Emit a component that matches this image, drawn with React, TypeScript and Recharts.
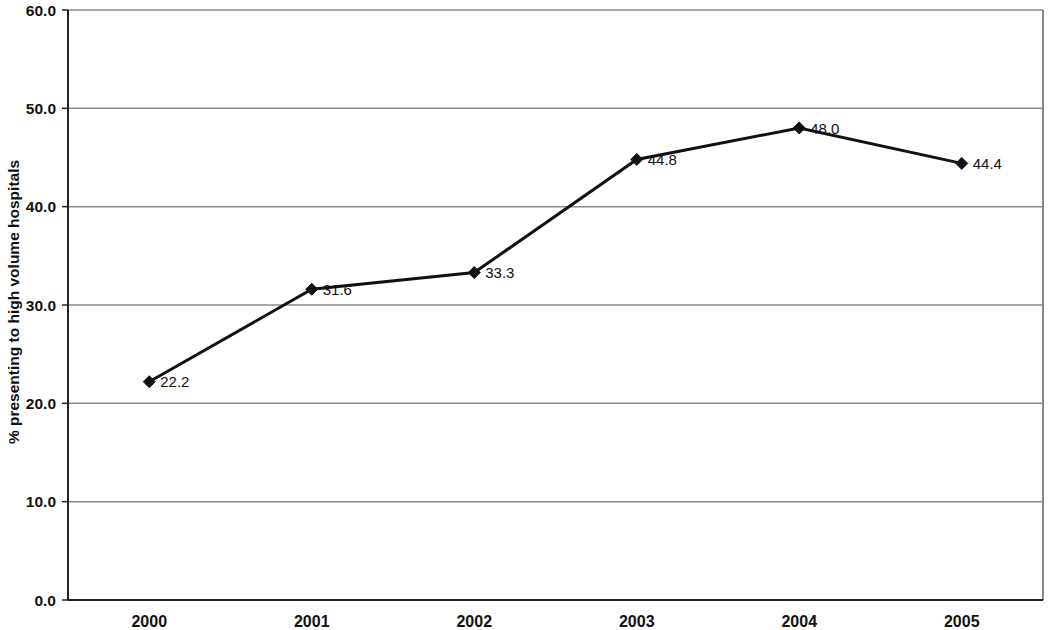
import React from "react";
import {
  LineChart,
  Line,
  XAxis,
  YAxis,
  CartesianGrid,
  ReferenceLine,
  LabelList,
} from "recharts";

const years = ["2000", "2001", "2002", "2003", "2004", "2005"];
const pct = [22.2, 31.6, 33.3, 44.8, 48.0, 44.4];
const yTicks = [0, 10, 20, 30, 40, 50, 60];

const data = years.map((year, i) => ({ idx: i, year, value: pct[i] }));

const font = "Arial, 'Liberation Sans', Helvetica, sans-serif";

// diamond marker, like the old Excel line charts
const Diamond = (props: any) => {
  const { cx, cy } = props;
  if (cx == null || cy == null) return null;
  const r = 6;
  return (
    <polygon
      points={`${cx},${cy - r} ${cx + r},${cy} ${cx},${cy + r} ${cx - r},${cy}`}
      fill="#111"
      stroke="#111"
    />
  );
};

const ValueLabel = (props: any) => {
  const { x, y, value } = props;
  return (
    <text x={x + 11} y={y + 5.5} fontSize={15} fontFamily={font} fill="#111" textAnchor="start">
      {Number(value).toFixed(1)}
    </text>
  );
};

const AxisTitle = (props: any) => {
  const { viewBox } = props;
  const cy = viewBox.y + viewBox.height / 2 - 3;
  return (
    <text
      x={13}
      y={cy}
      transform={`rotate(-90, 13, ${cy})`}
      textAnchor="middle"
      dominantBaseline="central"
      fontSize={15.5}
      fontWeight="bold"
      fontFamily={font}
      fill="#111"
    >
      % presenting to high volume hospitals
    </text>
  );
};

export default function App() {
  return (
    <div style={{ position: "absolute", left: 0, top: 0, background: "#fff" }}>
      <LineChart
        width={1050}
        height={630}
        data={data}
        margin={{ top: 10, right: 7, left: 0, bottom: 0 }}
      >
        <CartesianGrid horizontal vertical={false} stroke="#8a8a8a" strokeWidth={1.5} />
        <XAxis
          dataKey="idx"
          type="number"
          domain={[-0.5, 5.5]}
          ticks={years.map((_, i) => i)}
          tickFormatter={(v: number) => years[v]}
          tickLine={false}
          axisLine={{ stroke: "#222", strokeWidth: 2 }}
          tick={{ fill: "#111", fontSize: 16, fontWeight: "bold", fontFamily: font }}
          tickMargin={10}
          height={30}
          allowDataOverflow
        />
        {/* tick marks between the categories */}
        <XAxis
          xAxisId="sep"
          dataKey="idx"
          type="number"
          domain={[-0.5, 5.5]}
          ticks={[0.5, 1.5, 2.5, 3.5, 4.5]}
          tick={false}
          tickSize={6}
          tickLine={{ stroke: "#222", strokeWidth: 1.5 }}
          axisLine={false}
          height={0}
          allowDataOverflow
        />
        <YAxis
          type="number"
          domain={[0, 60]}
          ticks={yTicks}
          tickFormatter={(v: number) => v.toFixed(1)}
          width={68}
          tickSize={6}
          tickMargin={6}
          tickLine={{ stroke: "#222", strokeWidth: 1.5 }}
          axisLine={{ stroke: "#222", strokeWidth: 2 }}
          tick={{ fill: "#111", fontSize: 15.5, fontWeight: "bold", fontFamily: font }}
          label={<AxisTitle />}
        />
        <ReferenceLine x={5.5} stroke="#8a8a8a" strokeWidth={2} />
        <Line
          type="linear"
          dataKey="value"
          stroke="#111"
          strokeWidth={3}
          dot={<Diamond />}
          activeDot={false}
          isAnimationActive={false}
        >
          <LabelList dataKey="value" content={<ValueLabel />} />
        </Line>
      </LineChart>
    </div>
  );
}
